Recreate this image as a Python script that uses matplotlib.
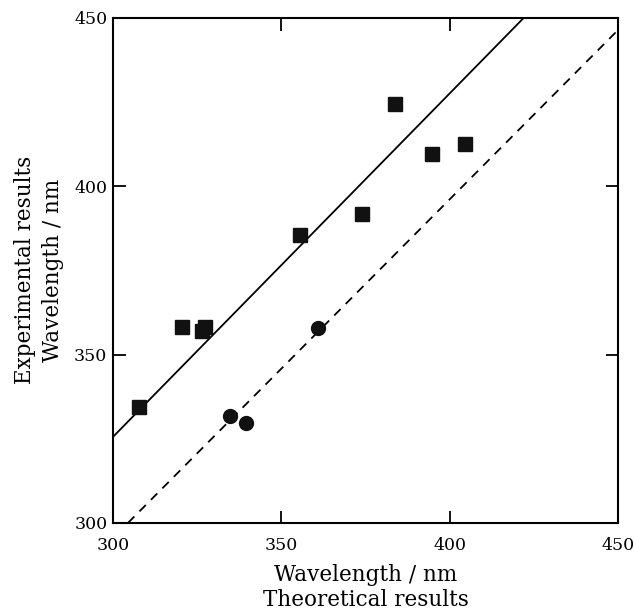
import matplotlib
matplotlib.use('Agg')
import matplotlib.pyplot as plt

# Datos
sq_x = [307.7, 320.5, 326.4, 327.3, 355.5, 374.0, 383.8, 394.7, 404.5]
sq_y = [334.5, 358.2, 357.0, 358.2, 385.6, 391.8, 424.5, 409.6, 412.6]
circ_x = [334.7, 339.5, 361.0]
circ_y = [331.8, 329.6, 358.0]

# Rectas de ajuste (extremos)
fit_x = [300, 422]
fit_y = [325.5, 450]
dash_x = [304.5, 450]
dash_y = [300, 446.4]

ticks = [300, 350, 400, 450]

plt.rcParams['font.family'] = 'DejaVu Serif'

fig = plt.figure(figsize=(6.34, 6.13), dpi=100)
ax = fig.add_axes([0.178, 0.147, 0.797, 0.824])

ax.plot(fit_x, fit_y, color='black', lw=1.3)
ax.plot(dash_x, dash_y, color='black', lw=1.3, dashes=(5, 4))
ax.plot(sq_x, sq_y, 's', color='#111111', ms=10, mec='#111111')
ax.plot(circ_x, circ_y, 'o', color='#111111', ms=10, mec='#111111')

ax.set_xlim(300, 450)
ax.set_ylim(300, 450)
ax.set_xticks(ticks)
ax.set_yticks(ticks)
ax.tick_params(direction='in', length=9, width=1.3, top=True, right=True, labelsize=12.5)
ax.tick_params(axis='x', pad=10)
ax.tick_params(axis='y', pad=4)
for s in ax.spines.values():
    s.set_linewidth(1.5)

ax.set_xlabel('Wavelength / nm\nTheoretical results', fontsize=15.5, labelpad=7, linespacing=1.2)
ax.set_ylabel('Experimental results\nWavelength / nm', fontsize=15.5, labelpad=7, linespacing=1.4)

fig.savefig('out.png', dpi=100)
